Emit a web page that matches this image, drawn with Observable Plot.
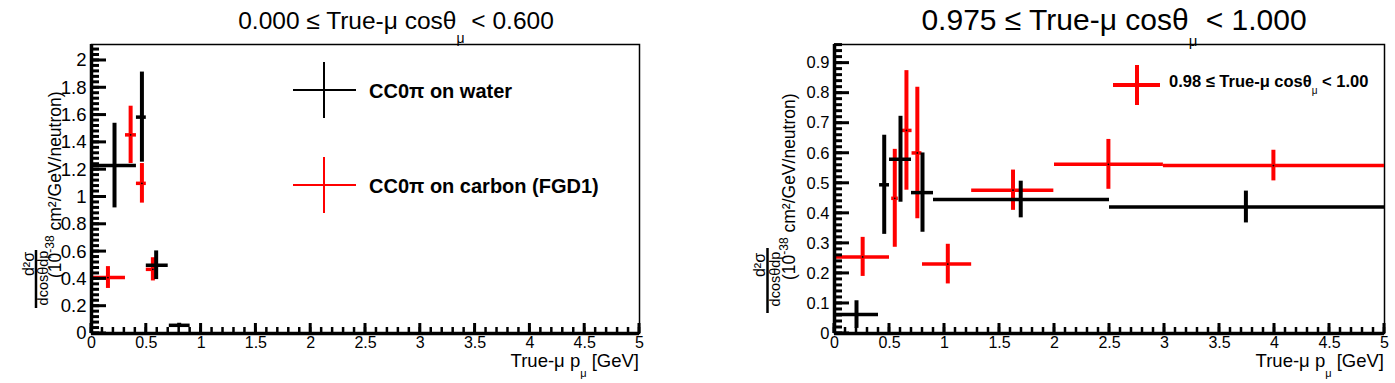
<!DOCTYPE html>
<html><head><meta charset="utf-8">
<script src="https://cdn.jsdelivr.net/npm/d3@7"></script>
<script src="https://cdn.jsdelivr.net/npm/@observablehq/plot@0.6"></script>
<style>
body{margin:0;background:#fff}
#wrap{display:flex;width:1395px;height:383px;overflow:hidden}
</style>
</head><body><div id="wrap"></div>
<script>
const FONT = "'Liberation Sans', Arial, Helvetica, sans-serif";

// Each row: [x, xLow, xHigh, y, yErr]  (p_mu in GeV, cross section in 1e-38 cm2/GeV/neutron)
const leftWater = [
  [0.21, 0.00, 0.41, 1.23, 0.31],
  [0.46, 0.41, 0.50, 1.585, 0.33],
  [0.59, 0.50, 0.70, 0.50, 0.105],
  [0.80, 0.71, 0.90, 0.06, 0.015]
];
const leftCarbon = [
  [0.15, 0.00, 0.31, 0.41, 0.08],
  [0.357, 0.31, 0.41, 1.455, 0.21],
  [0.46, 0.41, 0.50, 1.10, 0.145],
  [0.56, 0.50, 0.58, 0.47, 0.085]
];
const rightWater = [
  [0.20, 0.00, 0.40, 0.063, 0.046],
  [0.452, 0.41, 0.50, 0.495, 0.165],
  [0.60, 0.50, 0.70, 0.58, 0.143],
  [0.80, 0.70, 0.90, 0.469, 0.132],
  [1.693, 0.90, 2.50, 0.446, 0.061],
  [3.74, 2.50, 5.00, 0.421, 0.053]
];
const rightCarbon = [
  [0.256, 0.00, 0.50, 0.255, 0.065],
  [0.548, 0.52, 0.58, 0.45, 0.163],
  [0.654, 0.60, 0.705, 0.676, 0.199],
  [0.753, 0.705, 0.795, 0.601, 0.219],
  [1.03, 0.80, 1.247, 0.231, 0.066],
  [1.623, 1.247, 1.994, 0.477, 0.067],
  [2.49, 2.00, 2.99, 0.563, 0.083],
  [3.99, 2.99, 5.00, 0.559, 0.051]
];

const xTicks = [0, 0.5, 1, 1.5, 2, 2.5, 3, 3.5, 4, 4.5, 5];
const leftYTicks = [0, 0.2, 0.4, 0.6, 0.8, 1, 1.2, 1.4, 1.6, 1.8, 2];
const rightYTicks = [0, 0.1, 0.2, 0.3, 0.4, 0.5, 0.6, 0.7, 0.8, 0.9];
const leftTitle = ["0.000 \u2264 True-\u03bc cos\u03b8", "\u03bc", " < 0.600"];
const rightTitle = ["0.975 \u2264 True-\u03bc cos\u03b8", "\u03bc", " < 1.000"];
const legendLabels = ["CC0\u03c0 on water", "CC0\u03c0 on carbon (FGD1)"];
const rightLegend = ["0.98 \u2264 True-\u03bc cos\u03b8", "\u03bc", " < 1.00"];
const colors = {water: "#000000", carbon: "#ff0000"};

const toRows = arr => arr.map(([x, xlo, xhi, y, e]) => ({x, xlo, xhi, y, lo: y - e, hi: y + e}));
const fmt = d => String(+d.toFixed(2));

function seriesMarks(arr, color) {
  const rows = toRows(arr);
  return [
    Plot.ruleY(rows, {y: "y", x1: "xlo", x2: "xhi", stroke: color, strokeWidth: 3.5}),
    Plot.ruleX(rows, {x: "x", y1: "lo", y2: "hi", stroke: color, strokeWidth: 4}),
    Plot.dot(rows, {x: "x", y: "y", r: 0.9, fill: "black", stroke: "none"})
  ];
}

const H = 383, MT = 44, MB = 50;

function panel({width, marginLeft, marginRight, yMax, yTicks, yFont, water, carbon}) {
  return Plot.plot({
    width, height: H,
    marginLeft, marginRight, marginTop: MT, marginBottom: MB,
    x: {domain: [0, 5]},
    y: {domain: [0, yMax]},
    style: {fontFamily: FONT, background: "white", color: "black", overflow: "visible"},
    marks: [
      Plot.frame({stroke: "black", strokeWidth: 1.5}),
      ...seriesMarks(carbon, colors.carbon),
      ...seriesMarks(water, colors.water),
      Plot.axisX(xTicks, {tickSize: 0, tickPadding: 3, tickFormat: fmt, label: null, fontSize: 16}),
      Plot.axisY(yTicks, {tickSize: 0, tickPadding: 5, tickFormat: fmt, label: null, fontSize: yFont}),
      Plot.ruleY([0], {stroke: "black", strokeWidth: 3.5}),
      Plot.ruleX([0], {stroke: "black", strokeWidth: 3.5})
    ]
  });
}

// ROOT-style inward ticks along the bottom and left axes (same linear mapping as the plot's scales)
function inwardTicks(plot, cfg, yTicks, yMinorStep) {
  const fx = d3.scaleLinear().domain([0, 5]).range([cfg.marginLeft, cfg.width - cfg.marginRight]);
  const fy = d3.scaleLinear().domain([0, cfg.yMax]).range([H - MB, MT]);
  const xMinor = d3.range(0, 51).map(i => i / 10);
  const yMinor = d3.range(0, Math.floor(cfg.yMax / yMinorStep + 1e-9) + 1).map(i => i * yMinorStep);
  const svg = d3.select(plot);
  const g = svg.append("g").attr("stroke", "#000");
  const x0 = fx(0), y0 = fy(0);
  const line = (x1, y1, x2, y2, w) => g.append("line")
    .attr("x1", x1).attr("y1", y1).attr("x2", x2).attr("y2", y2).attr("stroke-width", w);
  xMinor.forEach(v => line(fx(v), y0, fx(v), y0 - 6, 2.5));
  xTicks.forEach(v => line(fx(v), y0, fx(v), y0 - 10, 3));
  yMinor.forEach(v => line(x0, fy(v), x0 + 8, fy(v), 3));
  yTicks.forEach(v => line(x0, fy(v), x0 + 15, fy(v), 3));
}

function addText(svg, x, y, parts, opts = {}) {
  const t = svg.append("text")
    .attr("font-family", FONT)
    .attr("font-size", opts.size || 16)
    .attr("font-weight", opts.weight || "normal")
    .attr("text-anchor", opts.anchor || "start")
    .attr("fill", "black");
  if (opts.rotate) t.attr("transform", `translate(${x},${y}) rotate(-90)`);
  else t.attr("x", x).attr("y", y);
  parts.forEach(p => {
    const s = t.append("tspan").text(p.text);
    if (p.dy) s.attr("dy", p.dy);
    if (p.size) s.attr("font-size", p.size);
    if (p.weight) s.attr("font-weight", p.weight);
  });
  return t;
}

function decorate(svgNode, cfg) {
  const svg = d3.select(svgNode);
  addText(svg, cfg.titleX, cfg.titleY, [
    {text: cfg.title[0]},
    {text: cfg.title[1], dy: cfg.subDy, size: cfg.subSize},
    {text: cfg.title[2], dy: -cfg.subDy}
  ], {size: cfg.titleSize, anchor: "middle"});
  addText(svg, cfg.xLabelEnd, 367, [
    {text: "True-\u03bc p"},
    {text: "\u03bc", dy: 10, size: 11},
    {text: " [GeV]", dy: -10}
  ], {size: 18.5, anchor: "end"});
  addText(svg, cfg.yl.num, cfg.yl.numC, [{text: "d\u00b2\u03c3"}], {size: 16, anchor: "middle", rotate: true});
  svg.append("line")
    .attr("x1", cfg.yl.bar).attr("x2", cfg.yl.bar)
    .attr("y1", cfg.yl.barTop).attr("y2", cfg.yl.barBot)
    .attr("stroke", "black").attr("stroke-width", 2.5);
  addText(svg, cfg.yl.den, cfg.yl.denC, [{text: "dcos\u03b8dp"}], {size: 14.5, anchor: "middle", rotate: true});
  addText(svg, cfg.yl.unit, cfg.yl.unitStart, [
    {text: "(10"},
    {text: "-38", dy: -7, size: 12},
    {text: " cm\u00b2/GeV/neutron)", dy: 7}
  ], {size: 17.5, anchor: "start", rotate: true});
}

const wrap = document.getElementById("wrap");

const leftCfg = {width: 697, marginLeft: 91, marginRight: 58, yMax: 2.117, yTicks: leftYTicks, yFont: 18.5,
  water: leftWater, carbon: leftCarbon};
const left = panel(leftCfg);
decorate(left, {title: leftTitle, titleX: 396, titleY: 28.5, titleSize: 24.5, subDy: 14, subSize: 14, xLabelEnd: 639,
  yl: {num: 34, numC: 264, bar: 36, barTop: 250, barBot: 308, den: 48, denC: 278, unit: 61, unitStart: 278}});
{
  const svg = d3.select(left);
  const entries = [[90, colors.water, legendLabels[0], 98], [185, colors.carbon, legendLabels[1], 193]];
  entries.forEach(([cy, col, lab, by]) => {
    svg.append("line").attr("x1", 293).attr("x2", 356).attr("y1", cy).attr("y2", cy).attr("stroke", col).attr("stroke-width", 2);
    svg.append("line").attr("x1", 324).attr("x2", 324).attr("y1", cy - 28).attr("y2", cy + 28).attr("stroke", col).attr("stroke-width", 2);
    addText(svg, 369, by, [{text: lab}], {size: 20, weight: "bold"});
  });
}
inwardTicks(left, leftCfg, leftYTicks, 0.04);
wrap.appendChild(left);

const rightCfg = {width: 698, marginLeft: 137, marginRight: 11, yMax: 0.962, yTicks: rightYTicks, yFont: 16.5,
  water: rightWater, carbon: rightCarbon};
const right = panel(rightCfg);
decorate(right, {title: rightTitle, titleX: 1114 - 697, titleY: 30, titleSize: 30, subDy: 16, subSize: 15, xLabelEnd: 1384 - 697,
  yl: {num: 765 - 697, numC: 265, bar: 767.5 - 697, barTop: 248, barBot: 313, den: 780 - 697, denC: 279, unit: 795 - 697, unitStart: 280}});
{
  const svg = d3.select(right);
  const cx = 1137 - 697, cy = 85;
  svg.append("line").attr("x1", cx - 24).attr("x2", cx + 23).attr("y1", cy).attr("y2", cy).attr("stroke", colors.carbon).attr("stroke-width", 4);
  svg.append("line").attr("x1", cx).attr("x2", cx).attr("y1", cy - 20).attr("y2", cy + 20).attr("stroke", colors.carbon).attr("stroke-width", 4);
  addText(svg, 1169 - 697, 87, [
    {text: rightLegend[0]},
    {text: rightLegend[1], dy: 7, size: 10, weight: "normal"},
    {text: rightLegend[2], dy: -7}
  ], {size: 16.5, weight: "bold"});
}
inwardTicks(right, rightCfg, rightYTicks, 0.02);
wrap.appendChild(right);
</script>
</body></html>
